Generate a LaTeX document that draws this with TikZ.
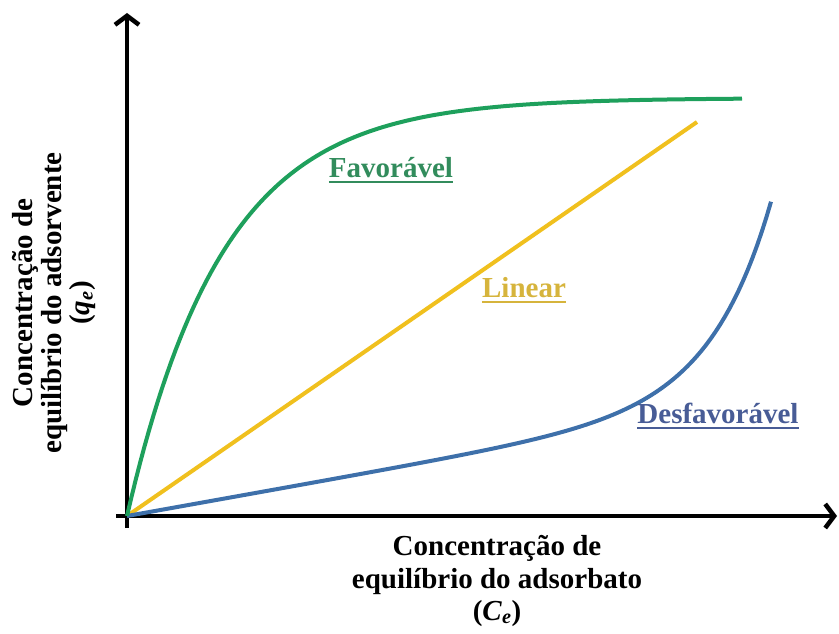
\documentclass[tikz,border=0pt]{standalone}
\usepackage{fontspec}
\setmainfont{Liberation Serif}
\usetikzlibrary{arrows.meta}
\definecolor{gcurve}{RGB}{30,160,92}
\definecolor{gtext}{RGB}{50,140,92}
\definecolor{ycurve}{RGB}{240,192,30}
\definecolor{ytext}{RGB}{214,180,60}
\definecolor{bcurve}{RGB}{62,112,170}
\definecolor{btext}{RGB}{72,92,150}
\tikzset{
  axisline/.style={line width=4.5pt, -{Straight Barb[length=9pt,width=24pt,line width=4.5pt]}},
  curve/.style={line width=4pt},
  lbl/.style={inner sep=0pt, anchor=base, font=\fontsize{29}{34}\selectfont\bfseries},
  ulin/.style={line width=1.8pt},
}
\begin{document}
\begin{tikzpicture}[x=1pt,y=-1pt]
\useasboundingbox (0,0) rectangle (839,634);
\coordinate (O) at (127,516);
\coordinate (ybot) at (127,528);
\coordinate (ytop) at (127,13);
\coordinate (xleft) at (116,516);
\coordinate (xright) at (837,516);
% axes
\draw[axisline] (ybot) -- (ytop);
\draw[axisline] (xleft) -- (xright);
% curves
\draw[curve, ycurve] (O) -- (697,122);
\draw[curve, bcurve] plot[domain=0:644, samples=140] ({127+\x},{516-(0.179*\x+exp((\x-326.4)/60)-0.00434)});
\draw[curve, gcurve] plot[domain=0:615, samples=140] ({127+\x},{516-418*(1-exp(-\x/96))});
% curve labels
\node[lbl, text=gtext] (fav) at (391,177) {Favorável};
\draw[ulin, gtext] ([yshift=-5pt]fav.base west) -- ([yshift=-5pt]fav.base east);
\node[lbl, text=ytext] (lin) at (524,297) {Linear};
\draw[ulin, ytext] ([yshift=-5pt]lin.base west) -- ([yshift=-5pt]lin.base east);
\node[lbl, text=btext] (des) at (718,423) {Desfavorável};
\draw[ulin, btext] ([yshift=-5pt]des.base west) -- ([yshift=-5pt]des.base east);
% x-axis label
\node[lbl] (xl1) at (497,555) {Concentração de};
\node[lbl] (xl2) at (497,588) {equilíbrio do adsorbato};
\node[lbl] (xl3) at (497,620) {(\textit{C}\textsubscript{\textit{e}})};
% y-axis label
\node[lbl, rotate=90] (yl1) at (32,303) {Concentração de};
\node[lbl, rotate=90] (yl2) at (61,303) {equilíbrio do adsorvente};
\node[lbl, rotate=90] (yl3) at (89,303) {(\textit{q}\textsubscript{\textit{e}})};
\end{tikzpicture}
\end{document}
